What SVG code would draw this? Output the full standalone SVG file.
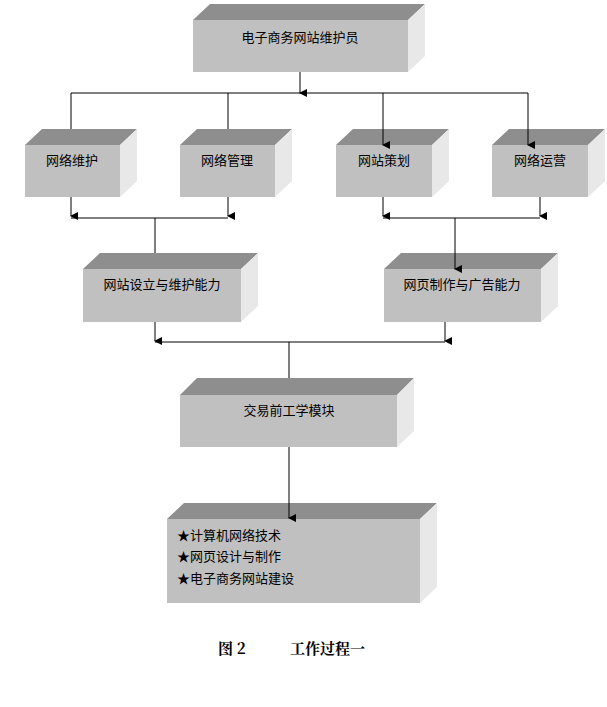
<svg xmlns="http://www.w3.org/2000/svg" width="607" height="707" viewBox="0 0 607 707">
<style>
.f{fill:#c0c0c0}.t{fill:#8e8e8e}.s{fill:#e8e8e8}
text{font-family:"Noto Sans CJK SC","Liberation Sans",sans-serif;font-size:13px;fill:#000}
.c{text-anchor:middle}
line,polyline{stroke:#000;stroke-width:1;fill:none}
</style>
<defs><marker id="a" markerWidth="8" markerHeight="8" refX="4" refY="7" orient="auto" markerUnits="userSpaceOnUse" viewBox="0 0 8 8"><path d="M0,0 L8,0 L4,8 Z" fill="#000"/></marker></defs>
<rect width="607" height="707" fill="#fff"/>
<g id="n1"><polygon class="t" points="193,20 210,4 425,4 408,20"/><polygon class="s" points="408,20 425,4 425,56 408,72"/><rect class="f" x="193" y="20" width="215" height="52"/><text class="c" x="300" y="42">电子商务网站维护员</text></g>
<g id="n2"><polygon class="t" points="25,145 42,129 137,129 120,145"/><polygon class="s" points="120,145 137,129 137,181 120,197"/><rect class="f" x="25" y="145" width="95" height="52"/><text class="c" x="72" y="165">网络维护</text></g>
<g id="n3"><polygon class="t" points="180,145 197,129 292,129 275,145"/><polygon class="s" points="275,145 292,129 292,181 275,197"/><rect class="f" x="180" y="145" width="95" height="52"/><text class="c" x="227" y="165">网络管理</text></g>
<g id="n4"><polygon class="t" points="336,145 353,129 449,129 432,145"/><polygon class="s" points="432,145 449,129 449,181 432,197"/><rect class="f" x="336" y="145" width="96" height="52"/><text class="c" x="384" y="165">网站策划</text></g>
<g id="n5"><polygon class="t" points="492,145 509,129 605,129 588,145"/><polygon class="s" points="588,145 605,129 605,181 588,197"/><rect class="f" x="492" y="145" width="96" height="52"/><text class="c" x="540" y="165">网络运营</text></g>
<g id="n6"><polygon class="t" points="83,269 100,253 258,253 241,269"/><polygon class="s" points="241,269 258,253 258,306 241,322"/><rect class="f" x="83" y="269" width="158" height="53"/><text class="c" x="162" y="289">网站设立与维护能力</text></g>
<g id="n7"><polygon class="t" points="384,269 401,253 558,253 541,269"/><polygon class="s" points="541,269 558,253 558,306 541,322"/><rect class="f" x="384" y="269" width="157" height="53"/><text class="c" x="462" y="289">网页制作与广告能力</text></g>
<g id="n8"><polygon class="t" points="180,395 197,378 414,378 397,395"/><polygon class="s" points="397,395 414,378 414,431 397,447"/><rect class="f" x="180" y="395" width="217" height="52"/><text class="c" x="289" y="415">交易前工学模块</text></g>
<g id="n9"><polygon class="t" points="167,519 184,503 437,503 420,519"/><polygon class="s" points="420,519 437,503 437,587 420,603"/><rect class="f" x="167" y="519" width="253" height="84"/>
<text x="177" y="540">★计算机网络技术</text><text x="177" y="561">★网页设计与制作</text><text x="177" y="583">★电子商务网站建设</text></g>
<g id="connectors">
<line x1="300" y1="72" x2="300" y2="93" marker-end="url(#a)"/>
<polyline points="71,129 71,93 528,93"/>
<line x1="228" y1="93" x2="228" y2="129"/>
<line x1="383" y1="93" x2="383" y2="145" marker-end="url(#a)"/>
<line x1="528" y1="93" x2="528" y2="145" marker-end="url(#a)"/>
<line x1="71" y1="197" x2="71" y2="216" marker-end="url(#a)"/>
<line x1="228" y1="197" x2="228" y2="216" marker-end="url(#a)"/>
<line x1="383" y1="197" x2="383" y2="216" marker-end="url(#a)"/>
<line x1="540" y1="197" x2="540" y2="216" marker-end="url(#a)"/>
<line x1="71" y1="218" x2="228" y2="218"/>
<line x1="383" y1="218" x2="540" y2="218"/>
<line x1="155" y1="218" x2="155" y2="253"/>
<line x1="455" y1="218" x2="455" y2="269" marker-end="url(#a)"/>
<line x1="155" y1="322" x2="155" y2="341" marker-end="url(#a)"/>
<line x1="445" y1="322" x2="445" y2="341" marker-end="url(#a)"/>
<line x1="155" y1="342" x2="445" y2="342"/>
<line x1="289" y1="342" x2="289" y2="378"/>
<line x1="289" y1="447" x2="289" y2="518" marker-end="url(#a)"/>
</g>
<text x="218" y="654" style="font-family:'Noto Serif CJK SC','Noto Sans CJK SC',serif;font-size:15px;font-weight:bold">图 2</text>
<text x="290" y="654" style="font-family:'Noto Serif CJK SC','Noto Sans CJK SC',serif;font-size:15px;font-weight:bold">工作过程一</text>
</svg>
